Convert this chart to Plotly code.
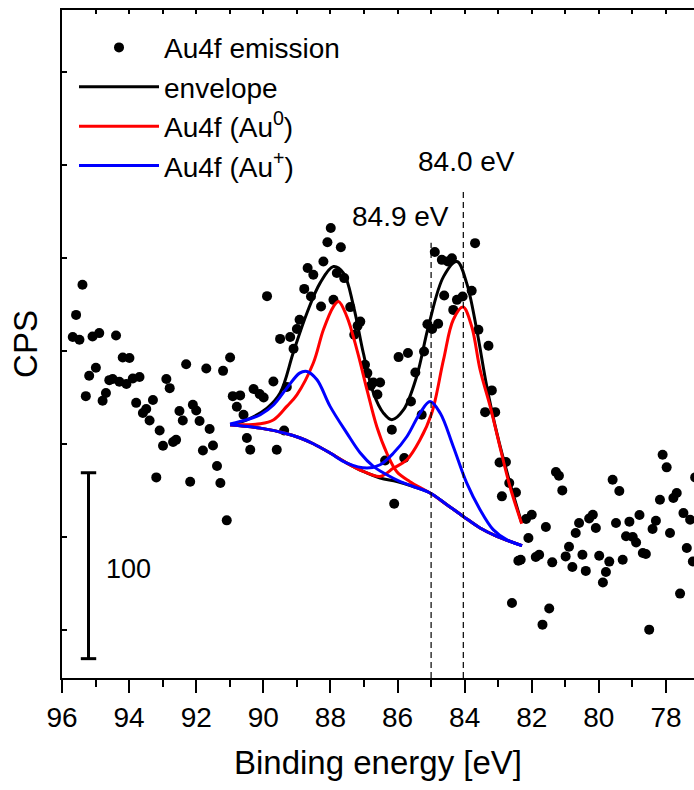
import plotly.graph_objects as go

FONT = "Liberation Sans, Arial, sans-serif"

# ---- measured data (binding energy [eV], counts per second) ----
pts_x = [95.68, 95.58, 95.48, 95.39, 95.29, 95.19, 95.09, 94.99, 94.89, 94.79,
         94.69, 94.59, 94.49, 94.39, 94.29, 94.19, 94.08, 93.99, 93.89, 93.79,
         93.69, 93.59, 93.49, 93.39, 93.29, 93.19, 93.09, 92.99, 92.89, 92.79,
         92.69, 92.60, 92.50, 92.40, 92.30, 92.18, 92.10, 92.00, 91.90, 91.80,
         91.70, 91.60, 91.50, 91.38, 91.28, 91.20, 91.09, 90.99, 90.91, 90.79,
         90.69, 90.59, 90.49, 90.39, 90.29, 90.11, 89.99, 89.89, 89.70, 89.60,
         89.50, 89.38, 89.30, 89.20, 89.10, 89.00, 88.92, 88.78, 88.68, 88.58,
         88.51, 88.28, 88.21, 88.09, 87.99, 87.91, 87.81, 87.69, 87.59, 87.41,
         87.29, 87.19, 87.11, 86.97, 86.90, 86.80, 86.72, 86.60, 86.52, 86.37,
         86.17, 86.10, 85.97, 85.80, 85.69, 85.60, 85.47, 85.28, 85.21, 85.11,
         84.97, 84.89, 84.79, 84.68, 84.61, 84.50, 84.38, 84.34, 84.23, 84.06,
         83.79, 83.69, 83.59, 83.39, 83.29, 83.19, 83.09, 82.96, 82.89, 82.77,
         82.67, 82.59, 82.47, 82.40, 82.33, 82.17, 82.10, 82.00, 81.88, 81.78,
         81.68, 81.58, 81.48, 81.39, 81.28, 81.19, 81.09, 80.99, 80.89, 80.79,
         80.69, 80.59, 80.49, 80.39, 80.29, 80.18, 80.09, 79.99, 79.88, 79.79,
         79.69, 79.59, 79.49, 79.39, 79.29, 79.19, 79.09, 78.99, 78.89, 78.79,
         78.69, 78.60, 78.50, 78.40, 78.30, 78.18, 78.10, 77.98, 77.88, 77.78,
         77.68, 77.58, 77.48, 77.38, 77.28, 77.20, 77.13]
pts_y = [207.5, 219.4, 206.0, 235.6, 175.7, 186.7, 207.8, 191.0, 209.6, 173.2,
         177.4, 184.3, 184.9, 208.3, 183.4, 196.5, 182.2, 196.2, 185.2, 172.1,
         186.0, 166.6, 168.8, 162.6, 173.6, 132.0, 157.2, 149.0, 184.9, 180.0,
         151.0, 152.2, 167.7, 162.6, 192.9, 129.7, 171.1, 168.0, 162.3, 146.5,
         190.6, 158.0, 149.2, 138.1, 129.0, 189.3, 108.9, 196.5, 175.7, 170.0,
         176.1, 165.7, 153.2, 146.9, 179.5, 176.8, 175.0, 229.5, 183.6, 146.9,
         206.5, 157.2, 180.6, 207.5, 201.2, 211.8, 216.8, 233.4, 244.6, 229.3,
         241.0, 223.9, 248.1, 258.5, 266.1, 227.5, 241.9, 255.8, 239.2, 223.6,
         208.7, 213.5, 215.8, 192.6, 188.1, 181.3, 183.0, 176.6, 183.0, 141.1,
         157.6, 117.8, 196.7, 142.4, 198.9, 172.8, 188.4, 165.7, 199.7, 214.4,
         211.8, 253.2, 214.6, 249.0, 229.8, 248.1, 249.9, 222.1, 227.5, 229.3,
         232.4, 258.0, 211.4, 167.1, 202.8, 178.8, 167.1, 140.0, 121.8, 140.3,
         129.0, 64.4, 123.9, 87.2, 87.7, 109.6, 99.4, 111.9, 89.2, 90.4,
         52.8, 105.3, 61.5, 86.3, 134.9, 132.9, 125.0, 89.5, 94.7, 83.8,
         102.1, 107.5, 90.4, 81.7, 109.9, 111.9, 104.8, 89.9, 75.5, 81.1,
         86.7, 130.7, 107.5, 124.7, 87.7, 100.3, 108.2, 99.9, 97.0, 111.8,
         91.3, 90.8, 50.1, 104.2, 108.7, 120.0, 144.2, 137.4, 102.1, 120.9,
         123.6, 69.5, 112.8, 94.0, 109.2, 86.8, 132.0]

# Shirley background
bg_x = [90.99, 90.09, 89.38, 88.90, 88.51, 88.01, 87.51, 87.02, 86.52, 86.02,
        85.53, 85.03, 84.53, 84.04, 83.54, 83.04, 82.29]
bg_y = [160.3, 158.5, 155.9, 153.2, 150.1, 145.1, 139.7, 135.2, 131.7, 129.8,
        127.1, 123.6, 117.3, 111.0, 104.8, 100.3, 95.3]

# envelope
env_x = [90.99, 90.49, 89.89, 89.50, 89.10, 88.70, 88.31, 87.91, 87.61, 87.31,
         87.02, 86.72, 86.42, 86.17, 85.82, 85.43, 85.08, 84.63, 84.23, 83.94,
         83.64, 83.34, 83.04, 82.65, 82.30]
env_y = [160.3, 163.0, 169.3, 177.4, 199.6, 220.4, 236.5, 245.4, 241.9, 223.9,
         198.9, 177.4, 166.6, 163.0, 168.4, 186.3, 213.2, 240.0, 248.1, 236.5,
         211.4, 180.9, 155.8, 129.0, 107.5]

# Au0 components (4f5/2 and 4f7/2)
au0a_x = [90.99, 90.09, 89.69, 89.30, 89.00, 88.51, 88.21, 87.91, 87.76, 87.51,
          87.21, 86.91, 86.62, 86.32, 86.02, 85.63, 85.03, 84.53, 84.04, 83.54,
          83.04, 82.29]
au0a_y = [160.3, 160.8, 163.0, 170.2, 176.4, 193.5, 211.4, 223.9, 226.6, 218.5,
          200.6, 179.1, 159.4, 145.1, 135.0, 129.7, 123.6, 117.3, 111.0, 104.8,
          100.3, 95.3]
au0b_x = [90.99, 90.09, 89.38, 88.90, 88.51, 88.01, 87.51, 87.02, 86.52, 86.12,
          85.72, 85.33, 84.98, 84.63, 84.34, 84.05, 83.79, 83.54, 83.24, 82.95,
          82.65, 82.30]
au0b_y = [160.3, 158.5, 155.9, 153.2, 150.1, 145.1, 139.7, 135.2, 132.5, 137.0,
          141.5, 152.2, 166.6, 195.3, 216.8, 223.6, 213.2, 189.9, 170.2, 148.6,
          127.1, 107.1]

# Au+ components (4f5/2 and 4f7/2)
aupa_x = [90.99, 90.49, 90.09, 89.69, 89.30, 88.92, 88.70, 88.40, 88.01, 87.51,
          87.11, 86.72, 86.32, 85.92, 85.53, 85.03, 84.53, 84.04, 83.54, 83.04,
          82.29]
aupa_y = [160.8, 163.0, 165.7, 171.1, 180.0, 188.1, 189.0, 184.5, 170.2, 155.8,
          145.1, 137.9, 133.4, 129.7, 127.1, 123.6, 117.3, 111.0, 104.8, 100.3,
          95.3]
aupb_x = [90.99, 90.09, 89.38, 88.90, 88.51, 88.01, 87.51, 86.91, 86.52, 86.12,
          85.72, 85.33, 85.03, 84.73, 84.34, 83.94, 83.54, 83.15, 82.75, 82.29]
aupb_y = [160.3, 158.5, 155.9, 153.2, 150.1, 145.1, 139.7, 137.0, 138.8, 145.1,
          154.0, 166.6, 172.8, 166.6, 148.6, 129.0, 114.6, 103.9, 98.5, 95.3]

# reference energy markers (drawn position as read) and their labels
ref_line_x = [85.0, 84.04]
ref_line_tops = [258.2, 286.6]
ref_labels = ["84.9 eV", "84.0 eV"]
ref_label_x = [85.91, 83.96]
ref_label_y = [272.5, 301.9]

# scale bar (100 CPS)
bar_x = 95.21
bar_y = [34.5, 134.5]
bar_label = "100"

x_range = [96.0, 77.165]
y_range = [24.1, 383.4]
x_ticks = [96, 94, 92, 90, 88, 86, 84, 82, 80, 78]

fig = go.Figure()

fig.add_trace(go.Scatter(x=pts_x, y=pts_y, mode="markers", name="Au4f emission",
                         marker=dict(color="black", size=10, line=dict(width=0)),
                         legendgroup="a"))
fig.add_trace(go.Scatter(x=bg_x, y=bg_y, mode="lines", showlegend=False,
                         line=dict(color="black", width=3, shape="spline")))
fig.add_trace(go.Scatter(x=env_x, y=env_y, mode="lines", name="envelope",
                         line=dict(color="black", width=3, shape="spline"), legendgroup="b"))
fig.add_trace(go.Scatter(x=au0a_x, y=au0a_y, mode="lines", name="Au4f (Au<sup>0</sup>)",
                         line=dict(color="#ff0000", width=3, shape="spline"), legendgroup="c"))
fig.add_trace(go.Scatter(x=au0b_x, y=au0b_y, mode="lines", showlegend=False,
                         line=dict(color="#ff0000", width=3, shape="spline"), legendgroup="c"))
fig.add_trace(go.Scatter(x=aupa_x, y=aupa_y, mode="lines", name="Au4f (Au<sup>+</sup>)",
                         line=dict(color="#0000ff", width=3, shape="spline"), legendgroup="d"))
fig.add_trace(go.Scatter(x=aupb_x, y=aupb_y, mode="lines", showlegend=False,
                         line=dict(color="#0000ff", width=3, shape="spline"), legendgroup="d"))

# dashed reference lines live on the top axis (same range) so that axis is drawn
for e, top in zip(ref_line_x, ref_line_tops):
    fig.add_trace(go.Scatter(x=[e, e], y=[y_range[0], top], mode="lines", showlegend=False,
                             xaxis="x2",
                             line=dict(color="black", width=1.2, dash="6px,4px")))

fig.add_trace(go.Scatter(x=[bar_x, bar_x], y=bar_y, mode="lines+markers", showlegend=False,
                         line=dict(color="black", width=3),
                         marker=dict(symbol="line-ew", size=11, color="black",
                                     line=dict(color="black", width=3))))

for lab, lx, ly in zip(ref_labels, ref_label_x, ref_label_y):
    fig.add_annotation(x=lx, y=ly, text=lab, showarrow=False,
                       font=dict(family=FONT, size=28, color="black"))
fig.add_annotation(x=94.74, y=82.9, text=bar_label, showarrow=False, xanchor="left",
                   font=dict(family=FONT, size=27, color="black"))

fig.update_layout(
    width=694, height=790,
    margin=dict(l=62, r=0, t=10, b=112),
    paper_bgcolor="white", plot_bgcolor="white",
    font=dict(family=FONT, color="black"),
    xaxis=dict(range=x_range, tickvals=x_ticks, ticks="outside", ticklen=13, tickwidth=2,
               tickcolor="black", showline=True, linewidth=2, linecolor="black",
               showgrid=False, zeroline=False,
               tickfont=dict(family=FONT, size=28),
               minor=dict(dtick=1, tick0=0, ticks="outside", ticklen=7, tickwidth=2,
                          tickcolor="black"),
               title=dict(text="Binding energy [eV]", font=dict(family=FONT, size=33),
                          standoff=19)),
    xaxis2=dict(range=x_range, overlaying="x", side="top", anchor="y", showline=True,
                linewidth=2, linecolor="black", ticks="inside", ticklen=4, tickwidth=1.5,
                tickcolor="black", dtick=1, tick0=0, showticklabels=False,
                showgrid=False, zeroline=False),
    yaxis=dict(range=y_range, ticks="inside", ticklen=5, tickwidth=1.5, tickcolor="black",
               dtick=50, tick0=0, showticklabels=False, showline=True, linewidth=2,
               linecolor="black", mirror=False, showgrid=False, zeroline=False,
               title=dict(text="CPS", font=dict(family=FONT, size=33), standoff=12)),
    legend=dict(x=0.019, y=0.981, xanchor="left", yanchor="top", bgcolor="rgba(0,0,0,0)",
                borderwidth=0, font=dict(family=FONT, size=28), itemwidth=80,
                tracegroupgap=6, traceorder="normal"),
)

fig.write_html("out.html")
